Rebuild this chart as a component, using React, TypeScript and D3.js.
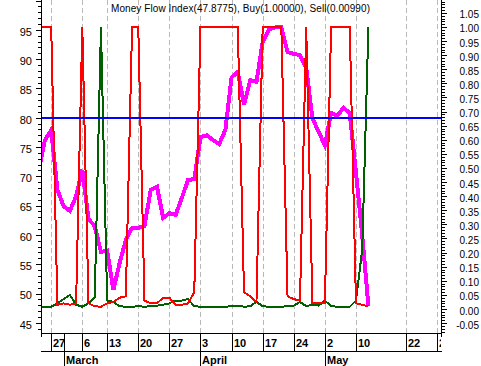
import React from "react";
import * as d3 from "d3";

// trading-day index of the first value below (27 Feb = day 0)
const firstDay = -2;

const mfiValues = [
  71.1, 76.2, 77.9, 67.7, 64.9, 64.1, 66.6, 71.1, 62.7, 61.5,
  57.1, 57.3, 50.6, 55.2, 59.1, 61.2, 61.2, 61.5, 67.7, 68.2,
  62.9, 63.7, 63.4, 66.3, 69.4, 69.5, 76.7, 77.0, 76.2, 75.5,
  77.9, 86.9, 87.8, 82.2, 86.4, 86.1, 92.9, 95.1, 95.4, 95.4,
  91.2, 90.9, 90.7, 88.5, 79.9, 77.6, 75.3, 80.8, 80.3, 81.7,
  80.8, 70.6, 60.0, 47.8775,
];

const buyValues = [
  0.008, 0.008, 0.008, 0.02, 0.035, 0.05, 0.015, 0.008, 0.02, 0.04,
  1.0, 0.03, 0.025, 0.01, 0.008, 0.008, 0.01, 0.008, 0.01, 0.012,
  0.015, 0.02, 0.03, 0.03, 0.035, 0.01, 0.008, 0.008, 0.008, 0.008,
  0.008, 0.01, 0.012, 0.008, 0.01, 0.025, 0.01, 0.008, 0.008, 0.008,
  0.01, 0.012, 0.025, 0.01, 0.015, 0.012, 0.03, 0.01, 0.008, 0.008,
  0.008, 0.03, 0.21, 1.0,
];

const sellValues = [
  1.0, 1.0, 1.0, 0.015, 0.02, 0.015, 0.02, 1.0, 0.02, 0.01,
  0.008, 0.02, 0.025, 0.04, 0.045, 1.0, 1.0, 0.03, 0.02, 0.02,
  0.04, 0.04, 0.015, 0.015, 0.02, 0.06, 1.0, 1.0, 1.0, 1.0,
  1.0, 1.0, 1.0, 0.06, 0.045, 0.025, 1.0, 1.0, 1.0, 1.0,
  0.045, 0.035, 0.03, 1.0, 0.02, 0.02, 0.02, 1.0, 1.0, 1.0,
  1.0, 0.02, 0.015, 0.0099,
];

const mfiTicks = [45, 50, 55, 60, 65, 70, 75, 80, 85, 90, 95];
const signalTicks = [
  -0.05, 0, 0.05, 0.1, 0.15, 0.2, 0.25, 0.3, 0.35, 0.4, 0.45, 0.5,
  0.55, 0.6, 0.65, 0.7, 0.75, 0.8, 0.85, 0.9, 0.95, 1.0, 1.05,
];
const weekDays = [0, 5, 9, 14, 19, 24, 29, 34, 39, 44, 49, 57, 62];
const weekLabels = ["27", "6", "13", "20", "27", "3", "10", "17", "24", "2", "10", "22", "29"];
const monthDays = [2, 24, 44];
const monthLabels = ["March", "April", "May"];
const mfiLevel = 80;

const title = "Money Flow Index(47.8775), Buy(1.00000), Sell(0.00990)";

const W = 481;
const H = 366;
const left = 41;
const right = 441;
const top = 0;
const bottom = 333;
const font = "Arial, 'Liberation Sans', sans-serif";

export default function App() {
  const x = d3.scaleLinear().domain([-1.64, 62.67]).range([left, right]);
  const yL = d3.scaleLinear().domain([43.26, 100.09]).range([bottom, top]);
  const yR = d3.scaleLinear().domain([-0.0851, 1.0957]).range([bottom, top]);

  const day = (i: number) => i + firstDay;
  const mfiLine = d3.line<number>().x((_, i) => x(day(i))).y((d) => yL(d));
  const sigLine = d3.line<number>().x((_, i) => x(day(i))).y((d) => yR(d));

  const px = (v: number) => Math.round(v) + 0.5;

  // minor ticks
  const leftMinor = d3.range(44, 101);
  const rightMinor = d3.range(-8, 110).map((v) => v / 100);

  return (
    <svg
      width={W}
      height={H}
      style={{ position: "absolute", left: 0, top: 0, background: "#fff" }}
      fontFamily={font}
    >
      <defs>
        <clipPath id="plot">
          <rect x={left} y={top} width={right - left} height={bottom - top} />
        </clipPath>
        <clipPath id="xlab">
          <rect x={left} y={bottom} width={right - left} height={H - bottom} />
        </clipPath>
      </defs>

      {/* dashed week grid */}
      {weekDays.map((d) => (
        <line
          key={"g" + d}
          x1={px(x(d))}
          x2={px(x(d))}
          y1={top}
          y2={bottom}
          stroke="#b8b8b8"
          strokeDasharray="5,3"
          shapeRendering="crispEdges"
        />
      ))}

      <text
        x={240.5}
        y={12}
        textAnchor="middle"
        fontSize={10}
        fill="#000"
        textLength={259}
        lengthAdjust="spacing"
      >
        {title}
      </text>

      <g clipPath="url(#plot)" fill="none" strokeLinejoin="miter">
        <path d={mfiLine(mfiValues) || ""} stroke="#ff00ff" strokeWidth={4} shapeRendering="crispEdges" />
        <path d={sigLine(buyValues) || ""} stroke="#006000" strokeWidth={2} shapeRendering="crispEdges" />
        <path d={sigLine(sellValues) || ""} stroke="#ff0000" strokeWidth={2} shapeRendering="crispEdges" />
        <line
          x1={left}
          x2={right}
          y1={yL(mfiLevel)}
          y2={yL(mfiLevel)}
          stroke="#0000ff"
          strokeWidth={2}
          shapeRendering="crispEdges"
        />
      </g>

      {/* left axis */}
      <g shapeRendering="crispEdges" stroke="#000">
        <line x1={left + 0.5} x2={left + 0.5} y1={top} y2={bottom + 4} />
        {leftMinor.map((v) => (
          <line
            key={"lm" + v}
            x1={left - (v % 5 === 0 ? 5 : 3)}
            x2={left}
            y1={px(yL(v))}
            y2={px(yL(v))}
          />
        ))}
      </g>
      {mfiTicks.map((v) => (
        <text key={"lt" + v} x={32} y={yL(v) + 2} dy="0.35em" textAnchor="end" fontSize={11}>
          {v}
        </text>
      ))}

      {/* right axis */}
      <g shapeRendering="crispEdges" stroke="#000">
        <line x1={right + 0.5} x2={right + 0.5} y1={top} y2={bottom + 4} />
        {rightMinor.map((v) => (
          <line
            key={"rm" + v}
            x1={right + 1}
            x2={right + 1 + (Math.round(v * 100) % 5 === 0 ? 5 : 3)}
            y1={px(yR(v))}
            y2={px(yR(v))}
          />
        ))}
      </g>
      {signalTicks.map((v) => (
        <text key={"rt" + v} x={479} y={yR(v) + 2} dy="0.35em" textAnchor="end" fontSize={10}>
          {v.toFixed(2)}
        </text>
      ))}

      {/* date axis */}
      <g shapeRendering="crispEdges" stroke="#000">
        <line x1={left} x2={right + 1} y1={bottom + 0.5} y2={bottom + 0.5} />
        <line x1={left} x2={right + 1} y1={351.5} y2={351.5} />
        {weekDays.map((d) => (
          <line key={"wt" + d} x1={px(x(d))} x2={px(x(d))} y1={bottom} y2={352} />
        ))}
        {monthDays.map((d) => (
          <line key={"mt" + d} x1={px(x(d))} x2={px(x(d))} y1={bottom} y2={H} />
        ))}
      </g>
      <g clipPath="url(#xlab)" fontSize={11} fontWeight="bold">
        {weekDays.map((d, i) => (
          <text key={"wl" + d} x={Math.round(x(d)) + 2} y={347}>
            {weekLabels[i]}
          </text>
        ))}
      </g>
      <g fontSize={11} fontWeight="bold">
        {monthDays.map((d, i) => (
          <text key={"ml" + d} x={Math.round(x(d)) + 2} y={364}>
            {monthLabels[i]}
          </text>
        ))}
      </g>
    </svg>
  );
}
